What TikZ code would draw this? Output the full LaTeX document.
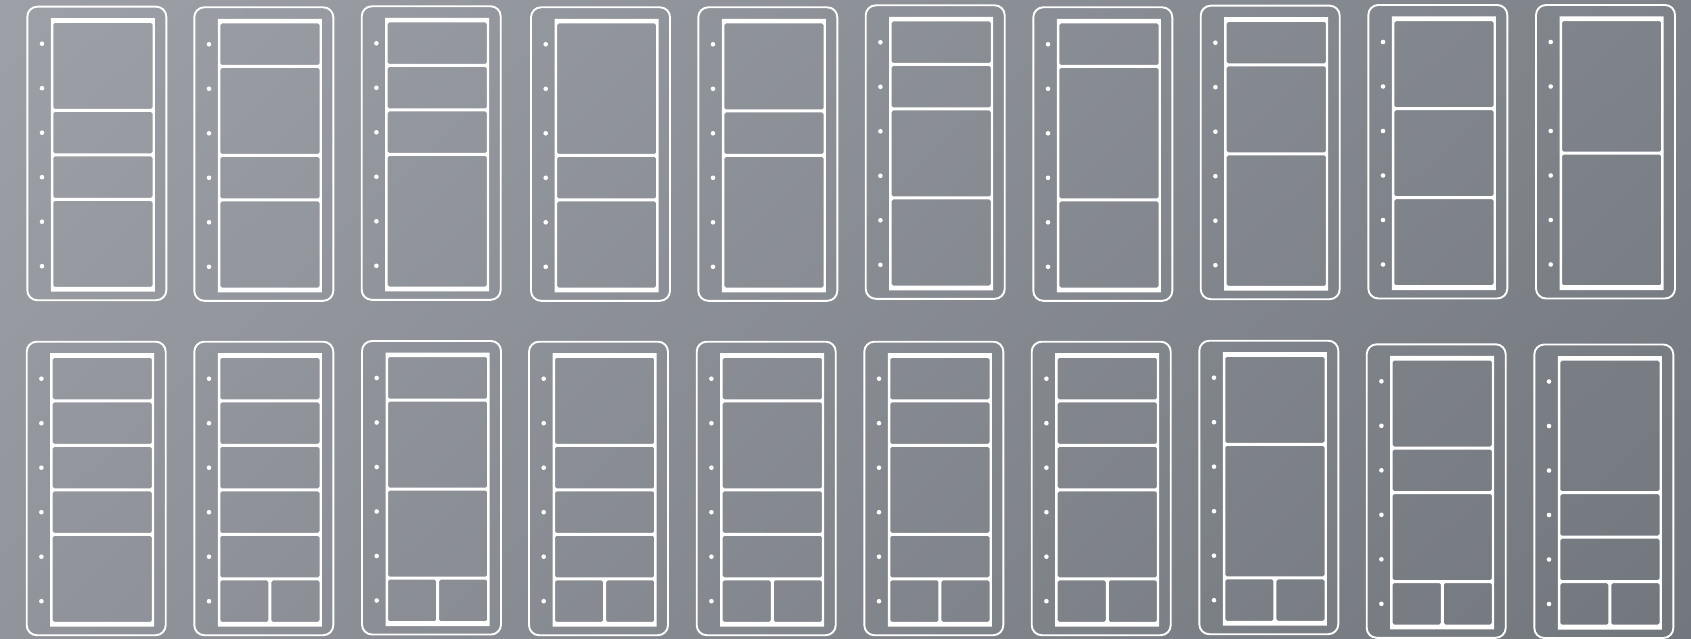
\documentclass[tikz,border=0pt]{standalone}
\usetikzlibrary{shadings}
\definecolor{bgUL}{HTML}{9DA1A7}
\definecolor{bgUR}{HTML}{7E8289}
\definecolor{bgLL}{HTML}{91959B}
\definecolor{bgLR}{HTML}{72767D}
\tikzset{
  outerline/.style={draw=white, line width=1.9pt, rounded corners=10pt},
  platefill/.style={fill=white, even odd rule},
  ledot/.style={fill=white},
}
% #1 = x, #2 = y, #3 = list start/length (in rows)
\newcommand\kpanel[3]{%
\begin{scope}[shift={(#1,#2)}]
  \draw[outerline] (0,0) rectangle (139,293.5);
  \fill[platefill] (23.5,11.5) rectangle (127.5,285)
    [rounded corners=1.5pt]
    \foreach \s/\l in {#3} { (26,{16.2+\s*44.5}) rectangle (125.2,{16.2+(\s+\l)*44.5-3}) };
  \foreach \k in {0,...,5} { \fill[ledot] (14.7,{37+\k*44.5}) circle (2.3); }
\end{scope}}
\newcommand\kpanelh[3]{%
\begin{scope}[shift={(#1,#2)}]
  \draw[outerline] (0,0) rectangle (139,293.5);
  \fill[platefill] (23.5,11.5) rectangle (127.5,285)
    [rounded corners=1.5pt]
    \foreach \s/\l in {#3} { (26,{16.2+\s*44.5}) rectangle (125.2,{16.2+(\s+\l)*44.5-3}) }
    (26,238.7) rectangle (74.1,280.2)
    (77.1,238.7) rectangle (125.2,280.2);
  \foreach \k in {0,...,5} { \fill[ledot] (14.7,{37+\k*44.5}) circle (2.3); }
\end{scope}}
\begin{document}
\begin{tikzpicture}[x=1pt,y=-1pt]
\useasboundingbox (0,0) rectangle (1691,639);
\shade[upper left=bgUL, upper right=bgUR, lower left=bgLL, lower right=bgLR] (0,0) rectangle (1691,639);
% top row
\kpanel{27.3}{6.7}{0/2,2/1,3/1,4/2}
\kpanel{194.3}{7.3}{0/1,1/2,3/1,4/2}
\kpanel{361.7}{6.3}{0/1,1/1,2/1,3/3}
\kpanel{531}{7.3}{0/3,3/1,4/2}
\kpanel{698.3}{7.3}{0/2,2/1,3/3}
\kpanel{865.7}{5.3}{0/1,1/1,2/2,4/2}
\kpanel{1033.3}{7.3}{0/1,1/3,4/2}
\kpanel{1200.7}{5.7}{0/1,1/2,3/3}
\kpanel{1368.3}{5}{0/2,2/2,4/2}
\kpanel{1536}{5}{0/3,3/3}
% bottom row
\kpanel{26.7}{341.7}{0/1,1/1,2/1,3/1,4/2}
\kpanelh{194.3}{341.7}{0/1,1/1,2/1,3/1,4/1}
\kpanelh{362}{341}{0/1,1/2,3/2}
\kpanelh{529}{341.7}{0/2,2/1,3/1,4/1}
\kpanelh{696.7}{341.7}{0/1,1/2,3/1,4/1}
\kpanelh{864.3}{341.7}{0/1,1/1,2/2,4/1}
\kpanelh{1031.7}{341.7}{0/1,1/1,2/1,3/2}
\kpanelh{1199.3}{340.7}{0/2,2/3}
\kpanelh{1366.7}{344.3}{0/2,2/1,3/2}
\kpanelh{1534.3}{344.5}{0/3,3/1,4/1}
\end{tikzpicture}
\end{document}
